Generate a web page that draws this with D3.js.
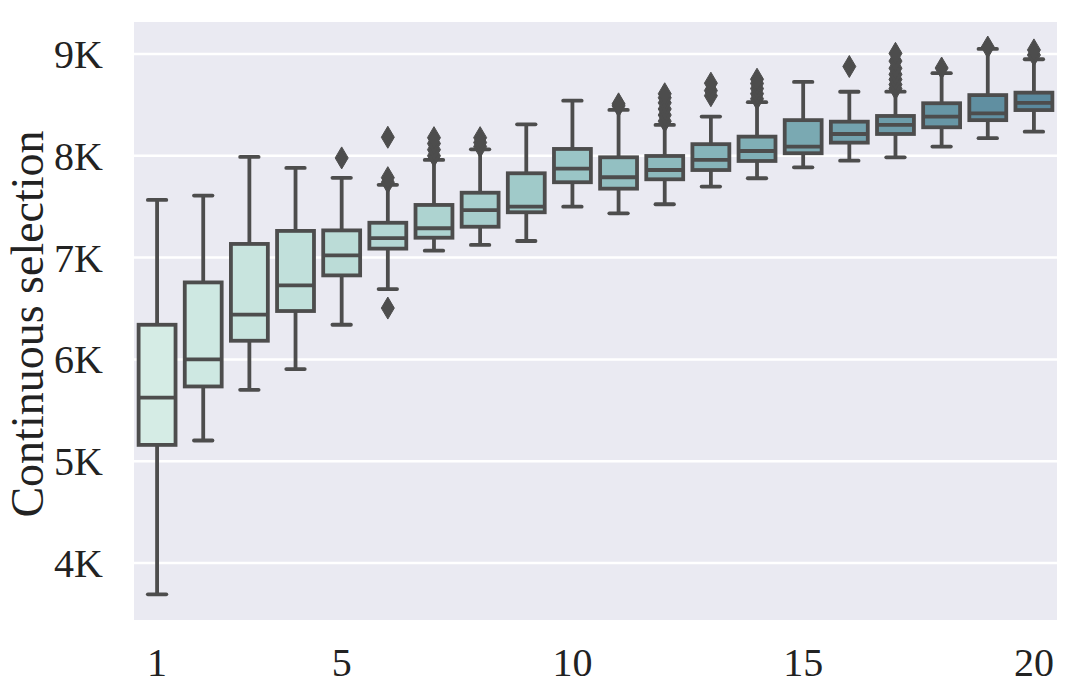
<!DOCTYPE html>
<html><head><meta charset="utf-8">
<script src="https://cdn.jsdelivr.net/npm/d3@7"></script>
<style>html,body{margin:0;padding:0;background:#fff;}</style>
</head><body>
<svg id="chart" width="1080" height="695"></svg>
<script>
const categories = [1,2,3,4,5,6,7,8,9,10,11,12,13,14,15,16,17,18,19,20];
const whiskerLow  = [3692,5203,5701,5905,6340,6691,7068,7124,7163,7500,7435,7524,7697,7779,7887,7952,7985,8090,8173,8237];
const q1          = [5160,5734,6183,6475,6825,7088,7195,7303,7445,7740,7677,7769,7860,7949,8025,8129,8214,8280,8350,8449];
const medians     = [5625,6000,6439,6727,7022,7192,7288,7466,7500,7874,7789,7860,7959,8047,8090,8214,8303,8385,8416,8520];
const q3          = [6340,6756,7134,7262,7267,7342,7517,7637,7828,8067,7985,7998,8114,8188,8350,8335,8391,8516,8596,8620];
const whiskerHigh = [7566,7609,7989,7881,7783,7715,7959,8063,8309,8541,8450,8303,8385,8526,8725,8629,8630,8811,9050,8948];
const outliers = [
  [],[],[],[],[7979],
  [6504,7740,7785,8182],
  [8000,8060,8120,8178],
  [8090,8130,8178],
  [],[],
  [8490,8510],
  [8340,8400,8460,8520,8570,8609],
  [8590,8640,8713],
  [8560,8610,8660,8710,8752],
  [],
  [8877],
  [8660,8700,8750,8800,8860,8930,9006],
  [8862],
  [9068],
  [8990,9040]
];
const yTicks = [4000,5000,6000,7000,8000,9000];
const yTickLabels = ["4K","5K","6K","7K","8K","9K"];
const xTickShown = [1,5,10,15,20];
const yLabel = "Continuous selection";

const svg = d3.select("#chart");
const L = 134, R = 1057, T = 22, B = 620;
const font = "'Liberation Serif','Times New Roman',serif";
const lineColor = "#4d4d4d";
const sw = 3.8;

const x = d3.scaleBand().domain(categories).range([L, R]).padding(0);
const y = d3.scaleLinear().domain([3440, 9314]).range([B, T]);
const color = d3.scaleSequential(d3.interpolateRgbBasis(["#d5ece5","#96c6c5","#5a899d"])).domain([0, categories.length-1]);

svg.append("rect").attr("x", L).attr("y", T).attr("width", R-L).attr("height", B-T).attr("fill", "#eaeaf2");

svg.append("g").selectAll("line").data(yTicks).join("line")
  .attr("x1", L).attr("x2", R)
  .attr("y1", d => y(d)).attr("y2", d => y(d))
  .attr("stroke", "#fff").attr("stroke-width", 2.5);

const yAxis = d3.axisLeft(y).tickValues(yTicks).tickFormat((d,i) => yTickLabels[i]).tickSize(0).tickPadding(31);
const gy = svg.append("g").attr("transform", `translate(${L},0)`).call(yAxis);
gy.select(".domain").remove();
gy.selectAll("text").attr("font-family", font).attr("font-size", 40).attr("fill", "#222").attr("dy", "0.34em");

const xAxis = d3.axisBottom(x).tickValues(xTickShown).tickSize(0).tickPadding(28);
const gx = svg.append("g").attr("transform", `translate(0,${B})`).call(xAxis);
gx.select(".domain").remove();
gx.selectAll("text").attr("font-family", font).attr("font-size", 40).attr("fill", "#222").attr("dy", "0.71em");

svg.append("text")
  .attr("transform", `translate(43,${(T+B)/2 + 3}) rotate(-90)`)
  .attr("text-anchor", "middle")
  .attr("font-family", font).attr("font-size", 46).attr("fill", "#222")
  .text(yLabel);

const bw = x.bandwidth() * 0.8;
const capW = bw * 0.5;
const g = svg.append("g");
categories.forEach((c, i) => {
  const cx = x(c) + x.bandwidth()/2;
  const gg = g.append("g");
  gg.append("line").attr("x1", cx).attr("x2", cx).attr("y1", y(q3[i])).attr("y2", y(whiskerHigh[i]))
    .attr("stroke", lineColor).attr("stroke-width", sw);
  gg.append("line").attr("x1", cx).attr("x2", cx).attr("y1", y(q1[i])).attr("y2", y(whiskerLow[i]))
    .attr("stroke", lineColor).attr("stroke-width", sw);
  [whiskerHigh[i], whiskerLow[i]].forEach(v => {
    gg.append("line").attr("x1", cx - capW/2).attr("x2", cx + capW/2).attr("y1", y(v)).attr("y2", y(v))
      .attr("stroke", lineColor).attr("stroke-width", sw).attr("stroke-linecap", "round");
  });
  gg.append("rect").attr("x", cx - bw/2).attr("width", bw)
    .attr("y", y(q3[i])).attr("height", y(q1[i]) - y(q3[i]))
    .attr("fill", color(i)).attr("stroke", lineColor).attr("stroke-width", sw);
  gg.append("line").attr("x1", cx - bw/2).attr("x2", cx + bw/2).attr("y1", y(medians[i])).attr("y2", y(medians[i]))
    .attr("stroke", lineColor).attr("stroke-width", sw);
  gg.selectAll("path.o").data(outliers[i]).join("path")
    .attr("class", "o")
    .attr("d", d => { const yy = y(d); return `M${cx},${yy-11}L${cx+6.5},${yy}L${cx},${yy+11}L${cx-6.5},${yy}Z`; })
    .attr("fill", lineColor).attr("stroke", lineColor).attr("stroke-width", 1);
});
</script>
</body></html>
